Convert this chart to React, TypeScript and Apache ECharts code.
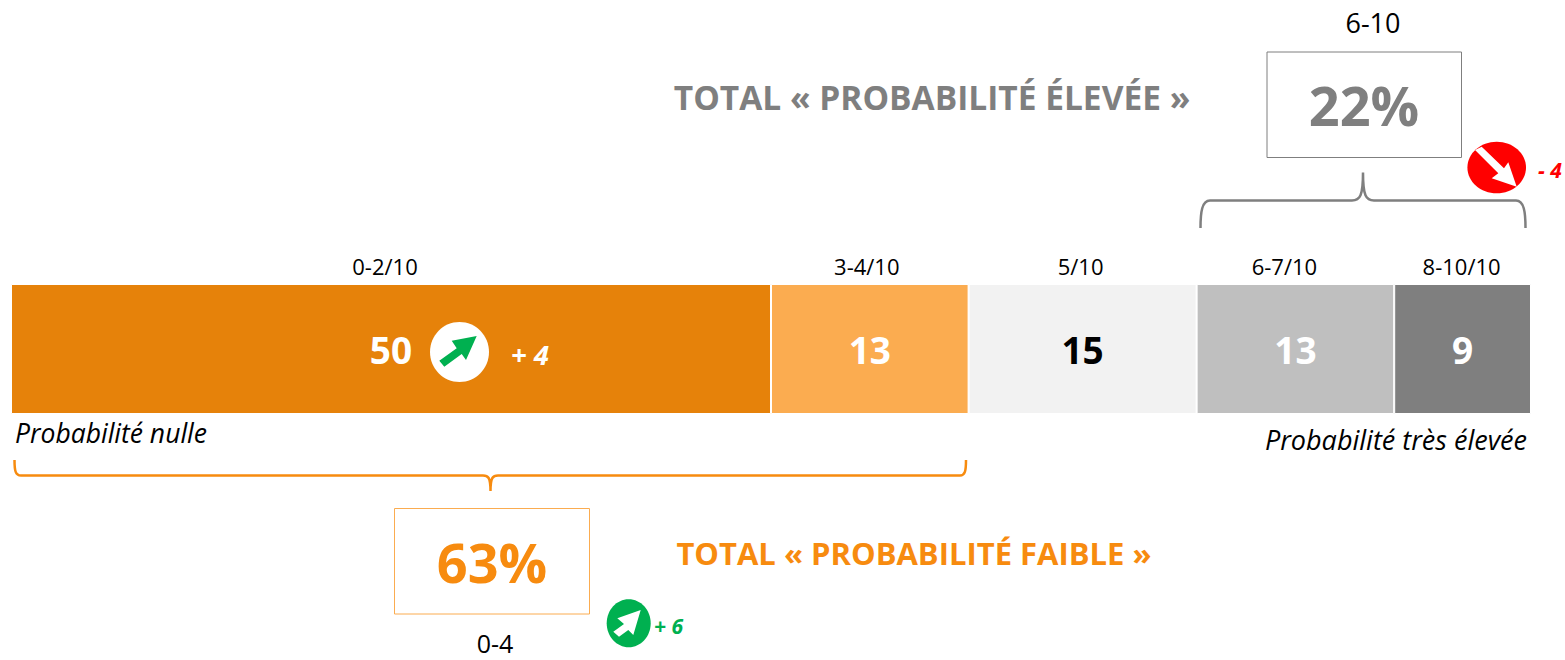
import React, { useEffect, useRef } from "react";
import * as echarts from "echarts";

const rowName = ["Probabilité"];
const segmentValues = [50, 13, 15, 13, 9];
const rangeLabels = ["0-2/10", "3-4/10", "5/10", "6-7/10", "8-10/10"];
const segmentColors = ["#E6820A", "#FBAC50", "#F2F2F2", "#BFBFBF", "#7F7F7F"];
const valueColors = ["#FFFFFF", "#FFFFFF", "#000000", "#FFFFFF", "#FFFFFF"];
const rangeLabelShift = [-6, -3, -2, -11, -1];

const FONT = '"Open Sans", sans-serif';
const ORANGE = "#F78B0F";
const GRAY = "#7F7F7F";
const GREEN = "#00B050";
const TOP = 10;

const text = (x: number, y: number, t: string, size: number, fill: string, extra: any = {}) => ({
  type: "text",
  silent: true,
  z: TOP + 1,
  style: {
    x, y, text: t, fontSize: size, fill, fontFamily: FONT,
    textAlign: extra.align ?? "center",
    textVerticalAlign: "middle",
    fontWeight: extra.weight ?? "normal",
    fontStyle: extra.italic ? "italic" : "normal",
  },
});

export default function App() {
  const ref = useRef<HTMLDivElement>(null);
  useEffect(() => {
    document.body.style.margin = "0";
    echarts.graphic.registerShape(
      "braceGray",
      echarts.graphic.extendPath(
        "M1200.5 228 C1200.5 212 1202 200.5 1210 200.5 L1352 200.5 C1360 200.5 1363 196 1363 172.5 C1363 196 1366 200.5 1374 200.5 L1516 200.5 C1524 200.5 1525.5 212 1525.5 228",
        {}
      )
    );
    echarts.graphic.registerShape(
      "braceOrange",
      echarts.graphic.extendPath(
        "M14.5 460 C14.5 471 15.5 475.5 21 475.5 L483 475.5 C488 475.5 490.5 477 490.5 491 C490.5 477 493 475.5 498 475.5 L960 475.5 C965 475.5 966 471 966 460",
        {}
      )
    );
    const chart = echarts.init(ref.current!, null, { renderer: "svg" });

    const valueSeries = segmentValues.map((v, i) => ({
      type: "bar",
      name: rangeLabels[i],
      stack: "values",
      barWidth: 130,
      barGap: "-100%",
      data: [v],
      itemStyle: { color: segmentColors[i], borderColor: "#FFFFFF", borderWidth: 1 },
      label: {
        show: true,
        position: "inside",
        formatter: "{c}",
        fontFamily: FONT,
        fontSize: 37,
        fontWeight: "bold",
        color: valueColors[i],
      },
      z: 2,
    }));
    const rangeSeries = segmentValues.map((v, i) => ({
      type: "bar",
      name: rangeLabels[i] + " ",
      stack: "ranges",
      barWidth: 130,
      barGap: "-100%",
      data: [v],
      itemStyle: { color: "transparent" },
      label: {
        show: true,
        position: "top",
        distance: 7,
        offset: [rangeLabelShift[i], 0],
        formatter: rangeLabels[i],
        fontFamily: FONT,
        fontSize: 22,
        color: "#000000",
      },
      z: 1,
    }));

    chart.setOption({
      animation: false,
      backgroundColor: "#FFFFFF",
      grid: { left: 11, width: 1520, top: 284, height: 130 },
      xAxis: { type: "value", min: 0, max: 100, show: false },
      yAxis: { type: "category", data: rowName, show: false },
      series: [...valueSeries, ...rangeSeries],
      graphic: [
        text(932, 97, "TOTAL « PROBABILITÉ ÉLEVÉE »", 33.5, GRAY, { weight: "bold" }),
        { type: "rect", silent: true, z: TOP, shape: { x: 1267, y: 52, width: 194.5, height: 105.5 }, style: { fill: "none", stroke: GRAY, lineWidth: 1 } },
        text(1364, 105, "22%", 54, GRAY, { weight: "bold" }),
        text(1373, 22, "6-10", 27, "#000000"),
        { type: "braceGray", silent: true, z: TOP, style: { fill: "none", stroke: GRAY, lineWidth: 2.5 } },
        { type: "ellipse", silent: true, z: TOP, shape: { cx: 1496.7, cy: 167.5, rx: 29.3, ry: 25.8 }, style: { fill: "#FF0000" } },
        { type: "polygon", silent: true, z: TOP + 1, shape: { points: [[1516.7, 186.7], [1491.7, 178.3], [1498.3, 173.3], [1475, 150], [1481.7, 146.7], [1504, 168.3], [1508.3, 162.3]] }, style: { fill: "#FFFFFF" } },
        text(1550, 170, "- 4", 21, "#FF0000", { weight: "bold", italic: true }),

        { type: "ellipse", silent: true, z: TOP, shape: { cx: 459.5, cy: 352, rx: 29.5, ry: 30 }, style: { fill: "#FFFFFF" } },
        { type: "polygon", silent: true, z: TOP + 1, shape: { points: [[476.7, 336], [451.7, 340.7], [456.7, 348.3], [439.3, 360.7], [444.3, 366.7], [461.7, 354], [466, 360]] }, style: { fill: GREEN } },
        text(530, 354, "+ 4", 27.5, "#FFFFFF", { weight: "bold", italic: true }),

        text(15, 433, "Probabilité nulle", 26.5, "#000000", { align: "left", italic: true }),
        text(1527, 439, "Probabilité très élevée", 27, "#000000", { align: "right", italic: true }),

        { type: "braceOrange", silent: true, z: TOP, style: { fill: "none", stroke: ORANGE, lineWidth: 2.5 } },
        { type: "rect", silent: true, z: TOP, shape: { x: 394.5, y: 508.5, width: 195, height: 105.5 }, style: { fill: "none", stroke: "#FBAC50", lineWidth: 1 } },
        text(492, 562, "63%", 54, ORANGE, { weight: "bold" }),
        text(914, 553, "TOTAL « PROBABILITÉ FAIBLE »", 31, ORANGE, { weight: "bold" }),
        text(495, 643, "0-4", 25, "#000000"),
        { type: "ellipse", silent: true, z: TOP, shape: { cx: 628.7, cy: 623.3, rx: 22, ry: 24 }, style: { fill: GREEN } },
        { type: "polygon", silent: true, z: TOP + 1, shape: { points: [[640.7, 610], [617.3, 618.3], [624, 624], [613.3, 631.7], [619, 636.7], [628.3, 630], [633.3, 635]] }, style: { fill: "#FFFFFF" } },
        text(668.5, 626, "+ 6", 21, GREEN, { weight: "bold", italic: true }),
      ],
    });
    return () => chart.dispose();
  }, []);
  return <div ref={ref} style={{ position: "fixed", left: 0, top: 0, width: 1565, height: 660 }} />;
}
